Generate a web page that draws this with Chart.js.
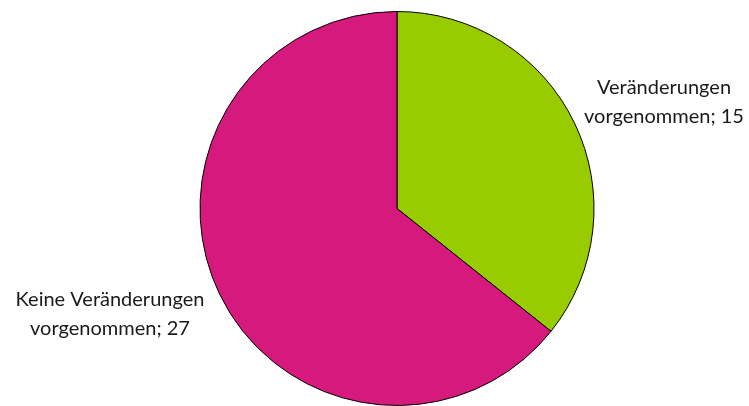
<!DOCTYPE html>
<html>
<head>
<meta charset="utf-8">
<script src="https://cdn.jsdelivr.net/npm/chart.js@4/dist/chart.umd.min.js"></script>
<style>
html,body{margin:0;padding:0;background:#fff;}
#wrap{width:749px;height:406px;position:relative;}
</style>
</head>
<body>
<div id="wrap"><canvas id="c" width="749" height="406"></canvas></div>
<script>
const categories = ["Veränderungen vorgenommen", "Keine Veränderungen vorgenommen"];
const labelLines = [["Veränderungen", "vorgenommen; 15"], ["Keine Veränderungen", "vorgenommen; 27"]];
const values = [15, 27];
const colors = ["#99CC00", "#D6197D"];
const labelAnchors = [[664, 102], [110, 314]];

const labelPlugin = {
  id: 'sliceLabels',
  afterDatasetsDraw(chart) {
    const ctx = chart.ctx;
    ctx.save();
    ctx.font = '20px Lato, "Open Sans", sans-serif';
    ctx.fillStyle = '#1a1a1a';
    ctx.textAlign = 'center';
    ctx.textBaseline = 'middle';
    labelLines.forEach((lines, i) => {
      const [x, y] = labelAnchors[i];
      const lh = 28.5;
      lines.forEach((t, j) => {
        ctx.fillText(t, x, y + (j - (lines.length - 1) / 2) * lh);
      });
    });
    ctx.restore();
  }
};

new Chart(document.getElementById('c'), {
  type: 'pie',
  data: {
    labels: categories,
    datasets: [{
      data: values,
      backgroundColor: colors,
      borderColor: '#000',
      borderWidth: 1
    }]
  },
  options: {
    responsive: false,
    animation: false,
    layout: { padding: { top: 11, bottom: 0, left: 45, right: 0 } },
    plugins: { legend: { display: false }, tooltip: { enabled: false } }
  },
  plugins: [labelPlugin]
});
</script>
</body>
</html>
